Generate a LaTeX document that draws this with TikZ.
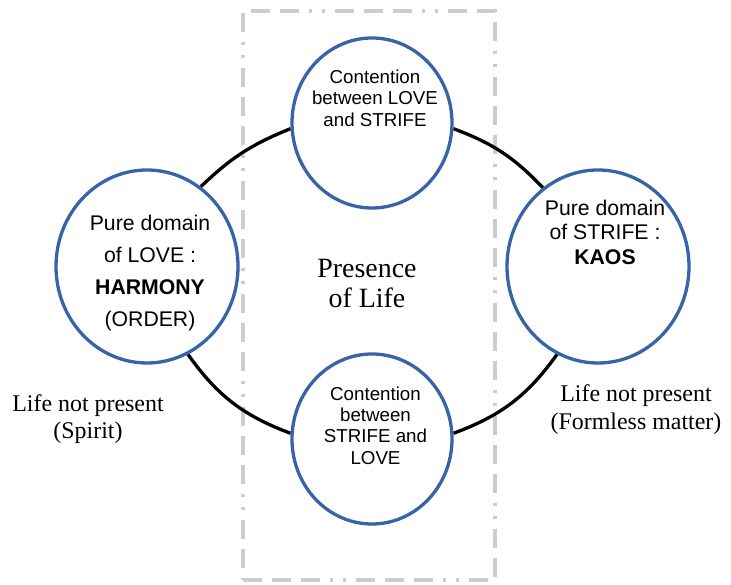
\documentclass[tikz,border=0pt]{standalone}
\usepackage{fontspec}
\setmainfont{Liberation Serif}
\setsansfont{Liberation Sans}
\usetikzlibrary{shapes.geometric,backgrounds}
\definecolor{circblue}{RGB}{54,100,166}
\definecolor{framegray}{RGB}{204,204,204}
\begin{document}
\begin{tikzpicture}[x=1bp,y=1bp,
  bubble/.style={ellipse, draw=circblue, line width=3.3bp, fill=white, inner sep=0pt},
  ringarc/.style={draw=black, line width=3.3bp},
  framebox/.style={draw=framegray, line width=3.2bp, inner sep=0pt,
    dash pattern=on 19bp off 10bp on 19bp off 10bp on 19bp off 10bp on 3bp off 10bp on 3bp off 10bp},
  sanssmall/.style={font=\sffamily\fontsize{18.8}{21.5}\selectfont, align=center, inner sep=0pt},
  serifnote/.style={font=\fontsize{24}{27.5}\selectfont, align=center, inner sep=0pt}
]
\useasboundingbox (0,0) rectangle (731,585);

% circles
\node[bubble, minimum width=182bp, minimum height=193bp] (L) at (147,318.5) {};
\node[bubble, minimum width=182bp, minimum height=193bp] (R) at (598,318.5) {};
\node[bubble, minimum width=160bp, minimum height=170bp] (T) at (372,462) {};
\node[bubble, minimum width=160bp, minimum height=170bp] (B) at (372,146) {};

\begin{scope}[on background layer]
  \node[framebox, minimum width=252bp, minimum height=569bp] (frame) at (369,289.5) {};
  \draw[ringarc] (L.56) to[bend left=11] (T.184);
  \draw[ringarc] (T.-4) to[bend left=13] (R.125);
  \draw[ringarc] (L.-65) to[bend right=17] (B.176);
  \draw[ringarc] (B.4) to[bend right=17] (R.245);
\end{scope}

% texts
\node[sanssmall] (ttxt) at (375,487) {Contention\\between LOVE\\and STRIFE};
\node[sanssmall] (btxt) at (375.5,159.5) {Contention\\between\\STRIFE and\\LOVE};
\node[font=\sffamily\fontsize{21.3}{32}\selectfont, align=center, inner sep=0pt] (ltxt) at (150,312.3)
  {Pure domain\\of LOVE :\\\textbf{HARMONY}\\(ORDER)};
\node[font=\sffamily\fontsize{21.3}{24.5}\selectfont, align=center, inner sep=0pt] (rtxt) at (605,352.7)
  {Pure domain\\of STRIFE :\\\textbf{KAOS}};
\node[font=\fontsize{28}{31}\selectfont, align=center, inner sep=0pt] (life) at (367,301.5)
  {Presence\\of Life};
\node[serifnote] (lnl) at (88,165.6) {Life not present\\(Spirit)};
\node[serifnote] (lnr) at (636,175.3) {Life not present\\(Formless matter)};
\end{tikzpicture}
\end{document}
